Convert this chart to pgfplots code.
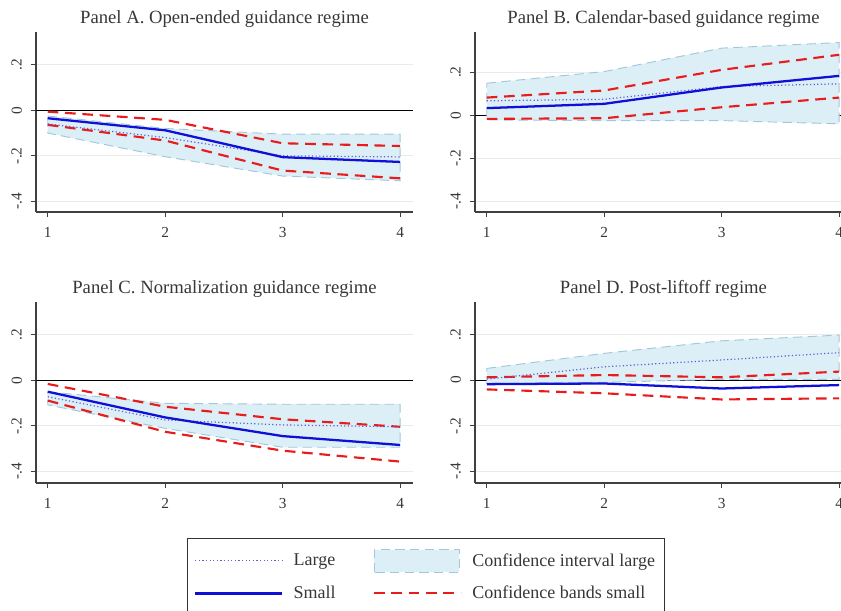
\documentclass[border=0pt]{standalone}
\usepackage{pgfplots}
\pgfplotsset{compat=1.18}
\usepackage{fontspec}
\setmainfont{Liberation Serif}
\definecolor{bandfill}{RGB}{220,238,246}
\definecolor{bandedge}{RGB}{160,200,218}
\definecolor{smallblue}{RGB}{15,15,215}
\definecolor{cbred}{RGB}{232,28,28}
\definecolor{largeblue}{RGB}{95,95,215}
\definecolor{txt}{RGB}{55,55,55}
\pgfplotsset{
  panel/.style={
    scale only axis, width=282.75pt, height=135pt,
    xmin=0.9, xmax=4.11,
    axis x line*=bottom, axis y line*=left,
    axis line style={draw=black!75, line width=0.8pt},
    tick align=outside, major tick length=4pt,
    tick style={draw=black!75, line width=0.7pt},
    xtick={1,2,3,4},
    ytick={-0.4,-0.2,0,0.2}, yticklabels={-.4,-.2,0,.2},
    yticklabel style={rotate=90, anchor=south},
    yticklabel shift=3pt, xticklabel shift=4pt,
    ticklabel style={font=\fontsize{11.5}{13}\selectfont, text=txt},
    /pgf/number format/assume math mode=true,
    ymajorgrids, grid style={draw=black!8, line width=0.6pt},
    title style={font=\fontsize{14}{16}\selectfont, text=txt, anchor=south, yshift=-6pt},
  },
  small/.style={smallblue, line width=1.7pt},
  cbands/.style={cbred, line width=1.6pt, dash pattern=on 8pt off 5pt},
  large/.style={largeblue, line width=0.9pt, dash pattern=on 0.9pt off 1.8pt},
  band/.style={fill=bandfill, draw=bandedge, line width=0.7pt, dash pattern=on 7pt off 4pt},
  zeroline/.style={black, line width=0.8pt},
  linelegend/.style={legend image code/.code={\draw[##1] (0pt,0pt) -- (65pt,0pt);}},
  boxlegend/.style={legend image code/.code={\draw[##1] (0pt,-8.5pt) rectangle (64pt,8.5pt);}},
}
\begin{document}
\begin{tikzpicture}
% Panel A
\begin{axis}[panel, at={(27pt,298.5pt)}, anchor=south west,
  ymin=-0.447, ymax=0.344, title={Panel A. Open-ended guidance regime}]
\addplot[zeroline, forget plot] coordinates {(0.9,0) (4.11,0)};
\addplot[band, forget plot] coordinates {(1,-0.025) (2,-0.08) (3,-0.105) (4,-0.105) (4,-0.31) (3,-0.289) (2,-0.204) (1,-0.10)} -- cycle;
\addplot[cbands, forget plot] coordinates {(1,-0.006) (2,-0.042) (3,-0.145) (4,-0.157)};
\addplot[cbands, forget plot] coordinates {(1,-0.064) (2,-0.133) (3,-0.265) (4,-0.299)};
\addplot[large, forget plot] coordinates {(1,-0.06) (2,-0.12) (3,-0.20) (4,-0.205)};
\addplot[small, forget plot] coordinates {(1,-0.035) (2,-0.088) (3,-0.206) (4,-0.227)};
\end{axis}
% Panel B
\begin{axis}[panel, at={(356.25pt,298.5pt)}, anchor=south west,
  ymin=-0.45, ymax=0.387, title={Panel B. Calendar-based guidance regime}]
\addplot[zeroline, forget plot] coordinates {(0.9,0) (4.11,0)};
\addplot[band, forget plot] coordinates {(1,0.149) (2,0.203) (3,0.312) (4,0.338) (4,-0.04) (3,-0.025) (2,-0.025) (1,-0.022)} -- cycle;
\addplot[cbands, forget plot] coordinates {(1,0.082) (2,0.115) (3,0.211) (4,0.281)};
\addplot[cbands, forget plot] coordinates {(1,-0.017) (2,-0.014) (3,0.037) (4,0.082)};
\addplot[large, forget plot] coordinates {(1,0.067) (2,0.074) (3,0.133) (4,0.146)};
\addplot[small, forget plot] coordinates {(1,0.033) (2,0.053) (3,0.129) (4,0.183)};
\end{axis}
% Panel C
\begin{axis}[panel, at={(27pt,95.25pt)}, anchor=south west, height=135.75pt,
  ymin=-0.451, ymax=0.344, title={Panel C. Normalization guidance regime},
  legend columns=2, legend cell align=left,
  legend style={at={(0.4005,-0.304)}, anchor=north west, draw=black!80, line width=0.6pt,
    font=\fontsize{13.5}{16}\selectfont, text=txt, inner xsep=5pt, inner ysep=8pt,
    row sep=8pt,
    /tikz/every even column/.append style={column sep=26pt},
    /tikz/every odd column/.append style={column sep=6pt}}]
\addplot[zeroline, forget plot] coordinates {(0.9,0) (4.11,0)};
\addplot[band, forget plot] coordinates {(1,-0.05) (2,-0.101) (3,-0.105) (4,-0.105) (4,-0.294) (3,-0.294) (2,-0.211) (1,-0.108)} -- cycle;
\addplot[cbands, forget plot] coordinates {(1,-0.016) (2,-0.116) (3,-0.171) (4,-0.204)};
\addplot[cbands, forget plot] coordinates {(1,-0.089) (2,-0.226) (3,-0.309) (4,-0.357)};
\addplot[large, forget plot] coordinates {(1,-0.072) (2,-0.174) (3,-0.196) (4,-0.204)};
\addplot[small, forget plot] coordinates {(1,-0.05) (2,-0.163) (3,-0.245) (4,-0.284)};
\addlegendimage{large, linelegend}
\addlegendentry{Large}
\addlegendimage{band, boxlegend}
\addlegendentry{Confidence interval large}
\addlegendimage{small, linelegend}
\addlegendentry{Small}
\addlegendimage{cbands, linelegend}
\addlegendentry{Confidence bands small}
\end{axis}
% Panel D
\begin{axis}[panel, at={(356.25pt,95.25pt)}, anchor=south west, height=135.75pt,
  ymin=-0.451, ymax=0.342, title={Panel D. Post-liftoff regime}]
\addplot[zeroline, forget plot] coordinates {(0.9,0) (4.11,0)};
\addplot[band, forget plot] coordinates {(1,0.051) (2,0.117) (3,0.172) (4,0.197) (4,0.003) (3,0.003) (2,-0.01) (1,-0.015)} -- cycle;
\addplot[cbands, forget plot] coordinates {(1,0.012) (2,0.022) (3,0.012) (4,0.037)};
\addplot[cbands, forget plot] coordinates {(1,-0.041) (2,-0.058) (3,-0.085) (4,-0.08)};
\addplot[large, forget plot] coordinates {(1,0.004) (2,0.058) (3,0.088) (4,0.12)};
\addplot[small, forget plot] coordinates {(1,-0.018) (2,-0.015) (3,-0.037) (4,-0.022)};
\end{axis}
\pgfresetboundingbox
\path (0,0) rectangle (630.75pt,457.5pt);
\end{tikzpicture}
\end{document}
